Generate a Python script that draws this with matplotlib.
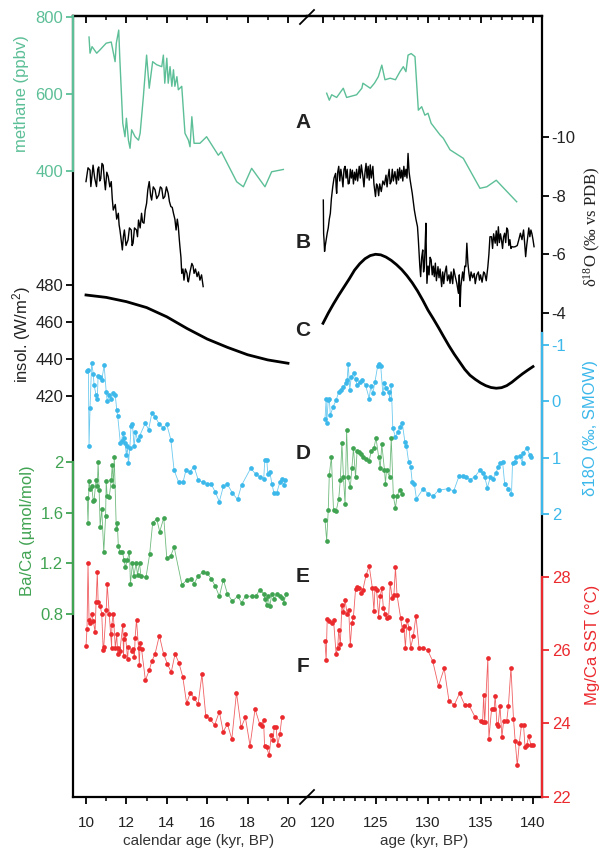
import matplotlib.pyplot as plt
from matplotlib.lines import Line2D
from matplotlib.ticker import FixedLocator

plt.rcParams['font.family'] = ['Liberation Sans', 'DejaVu Sans']
plt.rcParams['axes.unicode_minus'] = False

# ---- data ----
# A: methane (ppbv)
ch4_l_age = [10.15, 10.2, 10.3, 10.53, 10.7, 11.0, 11.25, 11.44, 11.5, 11.62, 11.67, 11.82, 11.93, 12.0, 12.1,
             12.18, 12.26, 12.43, 12.6, 12.68, 12.84, 13.0, 13.13, 13.3, 13.5, 13.75, 13.83, 13.9, 14.0, 14.07,
             14.16, 14.25, 14.33, 14.4, 14.5, 14.57, 14.74, 14.9, 15.07, 15.15, 15.24, 15.35, 15.64, 15.97, 16.55,
             16.7, 17.46, 17.79, 18.2, 18.86, 19.19, 19.77]
ch4_l = [748, 706, 723, 706, 715, 732, 735, 684, 732, 766, 697, 524, 489, 537, 480,
         459, 507, 489, 480, 498, 593, 701, 615, 684, 676, 671, 701, 628, 693, 628,
         671, 620, 663, 620, 645, 611, 620, 498, 480, 463, 541, 472, 472, 489, 441,
         450, 372, 359, 407, 359, 398, 404]
ch4_r_age = [120.35, 120.6, 120.83, 121.3, 121.93, 122.25, 123.2, 123.7, 123.8, 124.5, 124.9, 125.27, 125.6,
             125.9, 126.4, 126.9, 127.33, 127.65, 127.9, 128.1, 128.4, 128.76, 129.08, 129.4, 129.7, 130.0,
             130.3, 131.14, 131.46, 132.1, 133.36, 134.95, 135.6, 136.5, 138.45]
ch4_r = [602, 584, 598, 591, 615, 591, 598, 615, 628, 615, 628, 645, 675,
         637, 641, 637, 658, 671, 658, 701, 705, 697, 558, 567, 545, 550,
         524, 494, 485, 455, 433, 355, 359, 376, 320]

# B: d18O (permil vs PDB), (age, value)
pdb_l_pts = [
    (10.0, -8.48), (10.1, -8.95), (10.2, -8.87), (10.24, -8.31), (10.3, -8.7), (10.35, -9.04), (10.43, -8.6),
    (10.52, -8.31), (10.58, -8.9), (10.63, -8.98), (10.68, -8.5), (10.73, -8.58), (10.79, -9.1), (10.85, -9.04),
    (10.9, -8.6), (10.96, -8.2), (11.03, -8.8), (11.1, -8.65), (11.18, -8.3), (11.25, -8.48), (11.3, -7.9),
    (11.35, -7.51), (11.45, -7.7), (11.52, -7.2), (11.6, -7.4), (11.64, -7.0), (11.68, -6.83), (11.74, -6.5),
    (11.8, -6.15), (11.85, -6.6), (11.9, -6.83), (11.98, -6.3), (12.08, -6.49), (12.15, -6.9), (12.24, -6.83),
    (12.28, -6.3), (12.33, -6.38), (12.4, -6.9), (12.5, -6.83), (12.55, -6.6), (12.6, -7.17), (12.68, -6.9),
    (12.75, -7.4), (12.8, -7.1), (12.87, -7.06), (12.93, -7.5), (13.0, -7.74), (13.06, -8.2), (13.13, -8.48),
    (13.2, -8.0), (13.25, -7.85), (13.33, -8.3), (13.42, -8.2), (13.5, -7.9), (13.6, -8.02), (13.68, -8.3),
    (13.75, -8.25), (13.82, -7.9), (13.9, -7.97), (13.98, -8.3), (14.07, -8.08), (14.13, -7.8), (14.2, -7.63),
    (14.27, -7.6), (14.33, -7.4), (14.4, -7.2), (14.46, -6.83), (14.52, -7.2), (14.57, -6.94), (14.62, -6.5),
    (14.65, -6.26), (14.7, -5.9), (14.74, -5.35), (14.8, -5.5), (14.85, -5.12), (14.92, -5.5), (15.0, -5.35),
    (15.04, -5.1), (15.07, -5.06), (15.15, -5.4), (15.24, -5.69), (15.3, -5.6), (15.35, -5.35), (15.42, -5.5),
    (15.5, -5.24), (15.57, -5.4), (15.64, -5.12), (15.72, -5.3), (15.8, -4.9)]
pdb_r_pts = [
    (120.03, -7.85), (120.06, -6.7), (120.1, -6.49), (120.15, -6.1), (120.2, -6.26), (120.3, -6.5),
    (120.4, -6.72), (120.5, -6.9), (120.6, -7.2), (120.7, -7.4), (120.8, -7.9), (120.93, -8.31),
    (121.05, -8.6), (121.2, -8.76), (121.25, -8.3), (121.3, -8.08), (121.4, -8.8), (121.5, -9.0),
    (121.6, -8.5), (121.7, -8.9), (121.8, -8.65), (121.9, -8.3), (122.0, -8.9), (122.1, -9.0), (122.2, -8.6),
    (122.3, -8.9), (122.4, -8.4), (122.5, -8.42), (122.6, -8.9), (122.7, -8.6), (122.8, -8.87), (122.9, -8.4),
    (123.0, -8.8), (123.1, -8.53), (123.2, -8.9), (123.3, -8.5), (123.45, -9.0), (123.55, -8.6),
    (123.65, -9.05), (123.8, -8.65), (123.9, -8.3), (124.0, -8.8), (124.1, -9.1), (124.2, -8.6), (124.3, -9.0),
    (124.4, -8.53), (124.5, -9.05), (124.6, -8.6), (124.75, -9.0), (124.85, -8.4), (124.92, -8.2),
    (125.0, -7.97), (125.1, -8.4), (125.2, -8.31), (125.3, -8.0), (125.4, -8.4), (125.55, -8.14),
    (125.7, -8.5), (125.85, -8.37), (126.0, -8.7), (126.1, -8.3), (126.2, -8.65), (126.3, -8.9), (126.4, -8.4),
    (126.5, -8.48), (126.6, -8.9), (126.7, -8.5), (126.85, -8.82), (127.0, -8.4), (127.1, -8.9),
    (127.2, -8.53), (127.3, -8.95), (127.4, -8.6), (127.5, -8.87), (127.6, -8.5), (127.7, -9.0),
    (127.8, -8.65), (127.9, -8.9), (128.0, -8.6), (128.1, -9.44), (128.2, -8.8), (128.3, -8.53),
    (128.4, -8.3), (128.5, -8.08), (128.6, -7.8), (128.7, -7.51), (128.85, -7.2), (129.0, -6.94),
    (129.08, -6.5), (129.15, -6.03), (129.22, -5.6), (129.3, -5.24), (129.4, -5.9), (129.5, -6.15),
    (129.58, -5.4), (129.65, -5.58), (129.72, -6.2), (129.8, -7.06), (129.85, -5.8), (129.9, -5.01),
    (130.0, -5.6), (130.1, -5.3), (130.2, -5.9), (130.3, -5.81), (130.4, -5.3), (130.5, -5.6), (130.6, -5.24),
    (130.7, -5.7), (130.8, -5.1), (130.95, -5.58), (131.05, -5.2), (131.15, -5.5), (131.3, -4.9),
    (131.4, -5.4), (131.5, -5.0), (131.6, -5.35), (131.75, -5.6), (131.85, -5.1), (132.0, -5.3),
    (132.1, -5.01), (132.2, -5.4), (132.35, -5.0), (132.45, -5.5), (132.6, -5.24), (132.75, -5.0),
    (132.9, -4.67), (132.98, -5.3), (133.06, -4.22), (133.13, -4.9), (133.2, -5.12), (133.3, -5.4),
    (133.4, -5.1), (133.5, -5.6), (133.6, -5.58), (133.65, -6.0), (133.7, -6.38), (133.8, -5.7),
    (133.9, -5.35), (134.0, -5.1), (134.1, -5.4), (134.25, -5.2), (134.4, -5.35), (134.5, -5.0),
    (134.65, -5.3), (134.8, -5.4), (134.9, -5.12), (135.0, -5.3), (135.15, -5.05), (135.3, -5.4),
    (135.4, -5.35), (135.55, -5.1), (135.7, -5.58), (135.8, -6.0), (135.9, -6.6), (136.05, -6.6),
    (136.15, -6.2), (136.25, -6.7), (136.4, -6.38), (136.5, -6.8), (136.6, -6.3), (136.7, -6.94),
    (136.8, -6.4), (136.9, -6.7), (137.0, -6.49), (137.1, -6.2), (137.2, -6.6), (137.3, -6.72),
    (137.4, -6.4), (137.5, -6.9), (137.6, -6.83), (137.7, -6.3), (137.8, -6.5), (137.9, -6.2),
    (138.0, -6.26), (138.15, -6.25), (138.3, -6.26), (138.5, -6.3), (138.65, -6.5), (138.8, -6.72),
    (138.95, -6.5), (139.1, -6.83), (139.2, -6.4), (139.3, -5.92), (139.4, -6.3), (139.5, -6.6),
    (139.6, -6.9), (139.7, -6.6), (139.8, -6.83), (139.9, -6.7), (140.0, -6.5), (140.1, -6.26)]
pdb_l_age, pdb_l = zip(*pdb_l_pts)
pdb_r_age, pdb_r = zip(*pdb_r_pts)

# C: insolation (W/m2)
ins_l_age = [10, 11, 12, 13, 14, 15, 16, 17, 18, 19, 20]
ins_l = [474.6, 473.3, 471.0, 467.8, 462.8, 456.5, 450.8, 446.3, 442.3, 439.5, 437.7]
ins_r_age = [120, 120.5, 121, 121.5, 122, 122.5, 123, 123.5, 124, 124.5, 125, 125.5, 126, 126.5, 127, 127.5,
             128, 128.5, 129, 129.5, 130, 130.5, 131, 131.5, 132, 132.5, 133, 133.5, 134, 134.5, 135, 135.5,
             136, 136.5, 137, 137.5, 138, 138.5, 139, 139.5, 140]
ins_r = [459.3, 464.8, 469.8, 474.5, 478.9, 483.3, 488.0, 491.5, 494.2, 495.9, 496.6, 496.3, 495.1, 493.3,
         491.0, 488.3, 485.0, 481.2, 476.8, 471.8, 466.4, 461.8, 457.0, 452.0, 447.1, 442.6, 438.5, 434.4,
         431.2, 429.0, 427.1, 425.6, 424.6, 424.2, 424.5, 425.6, 427.5, 429.8, 432.0, 434.0, 435.9]

# D: seawater d18O (permil, SMOW)
sw_l_age = [10.06, 10.12, 10.15, 10.2, 10.28, 10.36, 10.4, 10.5, 10.56, 10.6, 10.7, 10.78, 10.9, 11.0, 11.05,
            11.15, 11.25, 11.33, 11.45, 11.52, 11.57, 11.7, 11.76, 11.82, 11.88, 11.93, 12.0, 12.05, 12.1, 12.17,
            12.23, 12.3, 12.38, 12.45, 12.55, 12.65, 12.93, 13.1, 13.26, 13.42, 13.63, 13.83, 14.0, 14.2, 14.36,
            14.58, 14.8, 14.95, 15.15, 15.35, 15.56, 15.8, 16.0, 16.2, 16.4, 16.6, 16.8, 17.0, 17.25, 17.5,
            17.7, 18.15, 18.4, 18.6, 18.8, 18.85, 18.95, 19.0, 19.1, 19.2, 19.3, 19.44, 19.6, 19.7, 19.78, 19.86]
sw_l = [-0.53, -0.56, 0.79, 0.12, -0.68, -0.49, -0.29, -0.11, -0.05, -0.45, -0.44, -0.38, -0.64, -0.17, 0.0,
        -0.11, -0.05, -0.14, -0.11, 0.15, 0.26, 0.74, 0.71, 0.56, 0.65, 0.74, 0.95, 0.8, 1.1, 0.83,
        0.44, 0.41, 0.8, 0.55, 0.68, 0.62, 0.39, 0.5, 0.21, 0.27, 0.41, 0.47, 0.41, 0.68, 1.22,
        1.43, 1.44, 1.22, 1.25, 1.16, 1.4, 1.44, 1.46, 1.47, 1.61, 1.78, 1.51, 1.47, 1.63, 1.74,
        1.49, 1.19, 1.29, 1.34, 1.37, 1.05, 1.04, 1.29, 1.25, 1.46, 1.62, 1.63, 1.43, 1.37, 1.49, 1.4]
sw_r_age = [120.19, 120.3, 120.35, 120.5, 120.6, 120.7, 120.95, 121.25, 121.5, 121.7, 121.95, 122.2, 122.3,
            122.4, 122.55, 122.7, 122.95, 123.1, 123.25, 123.5, 123.7, 124.05, 124.4, 124.55, 124.75, 124.95,
            125.2, 125.35, 125.5, 125.7, 125.85, 126.0, 126.25, 126.35, 126.5, 126.65, 126.9, 127.15, 127.3,
            127.55, 127.8, 127.95, 128.15, 128.35, 128.5, 128.7, 128.9, 129.55, 130.0, 130.5, 131.0, 131.9,
            132.45, 132.95, 133.35, 133.6, 134.0, 134.45, 134.95, 135.2, 135.4, 135.65, 135.95, 136.2, 136.45,
            136.7, 136.9, 137.1, 137.3, 137.65, 137.95, 138.05, 138.25, 138.4, 138.75, 139.0, 139.05, 139.4,
            139.7, 139.85]
sw_r = [0.32, -0.05, 0.39, -0.02, -0.05, 0.25, 0.1, -0.02, -0.17, -0.2, -0.26, -0.33, -0.38,
        -0.66, -0.21, -0.44, -0.5, -0.39, -0.29, -0.35, -0.38, -0.29, -0.05, -0.27, -0.14, -0.35,
        -0.62, -0.66, -0.62, -0.14, -0.32, -0.23, -0.17, -0.05, -0.29, 0.48, 0.63, 0.54, 0.45,
        0.39, 0.72, 0.8, 1.07, 1.16, 1.44, 1.47, 1.73, 1.55, 1.64, 1.68, 1.58, 1.55,
        1.59, 1.33, 1.33, 1.34, 1.39, 1.34, 1.22, 1.28, 1.34, 1.53, 1.34, 1.37, 1.28,
        1.16, 1.1, 1.07, 1.46, 1.55, 1.65, 1.1, 1.07, 0.98, 0.97, 1.1, 0.92, 0.83,
        0.95, 0.98]

# E: Ba/Ca (umol/mol)
baca_l_age = [10.06, 10.1, 10.15, 10.2, 10.28, 10.36, 10.4, 10.5, 10.56, 10.6, 10.65, 10.7, 10.78, 10.88, 10.97,
              11.0, 11.05, 11.15, 11.25, 11.3, 11.35, 11.4, 11.5, 11.55, 11.6, 11.68, 11.8, 11.88, 11.95, 12.05,
              12.15, 12.2, 12.3, 12.37, 12.48, 12.55, 12.65, 12.72, 12.97, 13.15, 13.3, 13.5, 13.65, 13.85, 14.0,
              14.2, 14.36, 14.75, 15.0, 15.2, 15.35, 15.56, 15.78, 16.0, 16.2, 16.4, 16.6, 16.8, 17.0, 17.25,
              17.5, 17.7, 17.9, 18.2, 18.4, 18.6, 18.8, 18.85, 18.95, 19.0, 19.1, 19.2, 19.3, 19.45, 19.6,
              19.7, 19.8, 19.9]
baca_l = [1.715, 1.52, 1.85, 1.79, 1.81, 1.69, 1.70, 1.86, 1.81, 2.0, 1.78, 1.49, 1.63, 1.29, 1.57,
          1.85, 1.73, 1.72, 1.86, 1.98, 1.81, 2.04, 1.47, 1.52, 1.34, 1.29, 1.29, 1.23, 1.17, 1.23,
          1.29, 1.04, 1.2, 1.1, 1.2, 1.11, 1.2, 1.1, 1.09, 1.27, 1.52, 1.55, 1.45, 1.56, 1.24,
          1.26, 1.33, 1.03, 1.07, 1.08, 1.04, 1.1, 1.13, 1.12, 1.08, 1.02, 0.94, 1.07, 0.96, 0.9,
          0.94, 0.89, 0.94, 0.94, 0.94, 0.99, 0.96, 0.92, 0.87, 0.94, 0.86, 0.96, 0.92, 0.96, 0.94,
          0.93, 0.89, 0.96]
baca_r_age = [120.19, 120.35, 120.5, 120.6, 120.8, 121.0, 121.25, 121.5, 121.65, 121.8, 121.95, 122.1, 122.25,
              122.4, 122.6, 122.75, 122.9, 123.1, 123.25, 123.4, 123.6, 123.8, 124.1, 124.4, 124.6, 124.85,
              125.05, 125.3, 125.45, 125.6, 125.85, 125.95, 126.05, 126.35, 126.5, 126.7, 126.9, 127.05,
              127.3, 127.55]
baca_r = [1.54, 1.38, 1.62, 1.9, 2.04, 1.62, 1.61, 1.71, 1.86, 2.15, 1.88, 1.67, 2.25,
          1.88, 1.8, 1.95, 2.11, 1.88, 2.09, 2.08, 2.06, 2.04, 2.02, 2.01, 2.09, 2.11,
          2.19, 2.04, 1.95, 2.14, 1.94, 1.83, 1.94, 1.88, 2.19, 1.73, 1.64, 1.73,
          1.78, 1.75]

# F: Mg/Ca SST (degC)
sst_l_age = [10.0, 10.05, 10.1, 10.15, 10.2, 10.28, 10.36, 10.45, 10.5, 10.56, 10.6, 10.7, 10.78, 10.85, 10.88,
             11.0, 11.05, 11.15, 11.22, 11.27, 11.28, 11.35, 11.45, 11.52, 11.57, 11.6, 11.68, 11.82, 11.86, 11.88,
             11.95, 12.06, 12.1, 12.26, 12.33, 12.4, 12.43, 12.5, 12.6, 12.64, 12.68, 12.75, 12.94, 13.13, 13.26,
             13.42, 13.63, 13.84, 14.03, 14.22, 14.41, 14.6, 14.79, 14.98, 15.17, 15.36, 15.55, 15.74, 15.93,
             16.12, 16.37, 16.6, 16.79, 17.0, 17.22, 17.45, 17.68, 17.89, 18.12, 18.37, 18.6, 18.69, 18.79,
             18.84, 18.94, 19.07, 19.17, 19.26, 19.32, 19.41, 19.49, 19.6, 19.7]
sst_l = [26.12, 26.58, 28.37, 26.83, 26.74, 27.0, 26.8, 26.5, 27.33, 28.14, 27.33, 27.2, 27.0, 26.0, 26.1,
         27.1, 27.8, 27.0, 26.43, 26.07, 26.7, 27.0, 26.07, 26.43, 25.9, 26.07, 25.98, 26.7, 25.85, 26.3,
         26.43, 25.76, 26.1, 25.98, 26.03, 25.8, 26.33, 26.83, 26.07, 25.6, 26.2, 26.03, 25.18, 25.45, 25.7,
         25.9, 26.4, 25.9, 25.62, 25.4, 25.9, 25.65, 25.27, 24.55, 24.84, 24.68, 24.52, 25.34, 24.2,
         24.13, 23.95, 24.32, 23.77, 23.98, 23.57, 24.84, 23.89, 24.16, 23.39, 24.39, 23.98, 23.93, 24.1,
         23.39, 23.34, 23.13, 23.68, 23.55, 23.9, 23.9, 23.4, 23.72, 24.18]
sst_r_age = [120.19, 120.3, 120.4, 120.6, 120.85, 121.0, 121.25, 121.4, 121.5, 121.65, 121.8, 121.95, 122.1,
             122.3, 122.45, 122.6, 122.75, 122.9, 123.1, 123.25, 123.4, 123.6, 123.8, 124.1, 124.4, 124.7,
             124.85, 124.95, 125.1, 125.3, 125.45, 125.6, 125.75, 125.9, 126.05, 126.25, 126.4, 126.6, 126.75,
             126.9, 127.05, 127.4, 127.55, 127.7, 127.85, 128.0, 128.2, 128.35, 128.6, 128.85, 129.15, 129.5,
             129.97, 130.45, 131.0, 131.54, 132.0, 132.5, 133.0, 133.5, 133.9, 134.5, 135.0, 135.2, 135.3,
             135.4, 135.7, 135.8, 136.05, 136.3, 136.4, 136.56, 136.67, 136.86, 137.04, 137.2, 137.5, 137.66,
             137.9, 138.14, 138.3, 138.5, 138.7, 138.9, 139.1, 139.24, 139.4, 139.6, 139.8, 139.97]
sst_r = [26.24, 25.73, 26.85, 26.79, 26.74, 26.83, 25.89, 26.07, 26.56, 26.16, 27.24, 27.03, 27.36,
         27.0, 27.09, 26.14, 26.74, 26.92, 27.66, 27.72, 27.7, 27.56, 27.65, 28.05, 28.3, 27.7,
         27.07, 27.7, 27.65, 26.92, 27.47, 27.7, 27.15, 27.0, 26.87, 26.92, 27.83, 27.42, 27.5,
         28.26, 27.51, 26.87, 26.56, 26.65, 26.07, 26.83, 26.6, 26.07, 26.38, 26.94, 26.07, 26.07,
         26.0, 25.7, 25.02, 25.5, 24.61, 24.5, 24.82, 24.5, 24.5, 24.16, 24.07, 24.03, 24.77,
         24.03, 25.79, 23.57, 24.38, 24.4, 24.76, 23.98, 23.92, 24.48, 23.62, 24.07, 24.07, 24.48,
         25.52, 24.13, 23.53, 22.85, 23.47, 23.95, 23.95, 23.35, 23.4, 23.66, 23.4, 23.42]

# ---- colours ----
C_CH4 = '#5cbf97'
C_BACA = '#40a352'
C_SW = '#3cb8ea'
C_SST = '#eb2a2e'
C_TXT = '#222222'

# ---- layout (pixels of the 603x855 canvas) ----
W, H = 603, 855
TOP, BOT = 16, 797
X0, XB, X1 = 73, 307, 542

fig = plt.figure(figsize=(W / 100, H / 100), dpi=100)


def rect(a, b):
    return [a / W, 1 - BOT / H, (b - a) / W, (BOT - TOP) / H]


def span(v1, p1, v2, p2, lo, hi):
    # axis limits so that value v1 sits at pixel p1 and v2 at p2
    s = (v2 - v1) / (p2 - p1)
    return v1 + (lo - p1) * s, v1 + (hi - p1) * s


XLIM_L = span(10, 86, 20, 288, X0, XB)
XLIM_R = span(120, 323, 140, 533, XB, X1)

# frame axes carrying the x axes
frame_l = fig.add_axes(rect(X0, XB))
frame_r = fig.add_axes(rect(XB, X1))
for ax, xl, major, minor in ((frame_l, XLIM_L, range(10, 21, 2), range(10, 21)),
                             (frame_r, XLIM_R, range(120, 141, 5), range(120, 141))):
    ax.set_xlim(xl)
    ax.set_ylim(0, 1)
    ax.set_yticks([])
    ax.patch.set_visible(False)
    ax.xaxis.set_major_locator(FixedLocator(list(major)))
    ax.xaxis.set_minor_locator(FixedLocator(list(minor)))
    ax.tick_params(axis='x', which='major', direction='out', length=5, width=1.3, pad=9,
                   labelsize=11, labelcolor=C_TXT)
    ax.tick_params(axis='x', which='minor', direction='out', length=3, width=1.1)
    for sp in ax.spines.values():
        sp.set_linewidth(1.6)
    sec = ax.secondary_xaxis('top')
    sec.xaxis.set_major_locator(FixedLocator(list(major)))
    sec.xaxis.set_minor_locator(FixedLocator(list(minor)))
    sec.tick_params(axis='x', which='major', direction='in', length=5, width=1.3, labeltop=False)
    sec.tick_params(axis='x', which='minor', direction='in', length=3, width=1.1)
    sec.spines['top'].set_linewidth(1.6)
frame_l.spines['right'].set_visible(False)
frame_r.spines['left'].set_visible(False)
frame_l.set_xlabel('calendar age (kyr, BP)', fontsize=11, color='#333333', labelpad=3)
frame_l.xaxis.set_label_coords((199 - X0) / (XB - X0), -0.048)
frame_r.set_xlabel('age (kyr, BP)', fontsize=11, color='#333333', labelpad=3)
frame_r.xaxis.set_label_coords(0.5, -0.048)

# break marks
for yp in (17, 797):
    fig.add_artist(Line2D([(XB - 7) / W, (XB + 7) / W], [1 - (yp + 7) / H, 1 - (yp - 7) / H],
                          transform=fig.transFigure, color='k', lw=1.3))


def series_axes(v1, p1, v2, p2):
    ylim = span(v1, p1, v2, p2, BOT, TOP)
    pair = []
    for r, xl in ((rect(X0, XB), XLIM_L), (rect(XB, X1), XLIM_R)):
        ax = fig.add_axes(r)
        ax.set_xlim(xl)
        ax.set_ylim(ylim)
        ax.patch.set_visible(False)
        for sp in ax.spines.values():
            sp.set_visible(False)
        ax.set_xticks([])
        ax.set_yticks([])
        pair.append(ax)
    return pair, ylim


def y_axis(ax, side, ticks, bounds, color, lab_color):
    sp = ax.spines[side]
    sp.set_visible(True)
    sp.set_color(color)
    sp.set_linewidth(1.6)
    sp.set_bounds(*bounds)
    lim = ax.get_ylim()
    ax.set_yticks(ticks)
    ax.set_ylim(lim)
    if side == 'right':
        ax.yaxis.tick_right()
    ax.tick_params(axis='y', direction='out', length=5, width=1.3, color=color, pad=2,
                   labelsize=12, labelcolor=lab_color)


def dots(pair, xl, yl, xr, yr, color):
    for ax, x, y in ((pair[0], xl, yl), (pair[1], xr, yr)):
        ax.plot(x, y, '-', color=color, lw=0.6, alpha=0.75)
        ax.plot(x, y, 'o', color=color, ms=3.4, mew=0)


# A methane
(a_l, a_r), ylim = series_axes(800, 17, 400, 171)
a_l.plot(ch4_l_age, ch4_l, color=C_CH4, lw=1.0)
a_r.plot(ch4_r_age, ch4_r, color=C_CH4, lw=1.0)
y_axis(a_l, 'left', [400, 600, 800], (400, ylim[1]), C_CH4, C_CH4)

# B d18O PDB
(b_l, b_r), ylim = series_axes(-10, 137, -4, 313)
b_l.plot(pdb_l_age, pdb_l, color='k', lw=1.0)
b_r.plot(pdb_r_age, pdb_r, color='k', lw=1.0)
y_axis(b_r, 'right', [-10, -8, -6, -4], (-4, -10), 'k', C_TXT)
b_r.spines['right'].set_visible(False)

# C insolation
(c_l, c_r), ylim = series_axes(480, 285, 420, 396)
c_l.plot(ins_l_age, ins_l, color='k', lw=2.0)
c_r.plot(ins_r_age, ins_r, color='k', lw=2.0)
y_axis(c_l, 'left', [420, 440, 460, 480], (420, 480), 'k', C_TXT)
c_l.spines['left'].set_visible(False)

# D seawater d18O
(d_l, d_r), ylim = series_axes(-1, 345, 2, 514)
dots((d_l, d_r), sw_l_age, sw_l, sw_r_age, sw_r, C_SW)
y_axis(d_r, 'right', [-1, 0, 1, 2], (-1.22, 2), C_SW, C_SW)

# E Ba/Ca
(e_l, e_r), ylim = series_axes(2, 462, 0.8, 614)
dots((e_l, e_r), baca_l_age, baca_l, baca_r_age, baca_r, C_BACA)
y_axis(e_l, 'left', [0.8, 1.2, 1.6, 2], (0.8, 2), C_BACA, C_BACA)
e_l.set_yticklabels(['0.8', '1.2', '1.6', '2'])

# F Mg/Ca SST
(f_l, f_r), ylim = series_axes(28, 577, 22, 796.5)
dots((f_l, f_r), sst_l_age, sst_l, sst_r_age, sst_r, C_SST)
y_axis(f_r, 'right', [22, 24, 26, 28], (ylim[0], 28), C_SST, C_SST)


# axis titles
def side_label(x, y, s, color, **kw):
    fig.text(x / W, 1 - y / H, s, rotation=90, ha='center', va='center', color=color, fontsize=12, **kw)


side_label(22, 94, 'methane (ppbv)', C_CH4)
side_label(22, 335, r'insol. (W/m$\mathregular{^2}$)', C_TXT)
side_label(28, 531, 'Ba/Ca (µmol/mol)', C_BACA)
side_label(592, 227, r'$\mathregular{\delta^{18}}$O (‰ vs PDB)', C_TXT,
           family=['Liberation Serif', 'DejaVu Serif'])
side_label(590, 428, 'δ18O (‰, SMOW)', C_SW)
side_label(592, 645, 'Mg/Ca SST (°C)', C_SST)

# panel letters
for letter, yp in (('A', 122), ('B', 242), ('C', 330), ('D', 453), ('E', 577), ('F', 667)):
    fig.text(303 / W, 1 - yp / H, letter, ha='center', va='center', fontsize=15,
             fontweight='bold', color=C_TXT)

fig.savefig('out.png', dpi=100)
